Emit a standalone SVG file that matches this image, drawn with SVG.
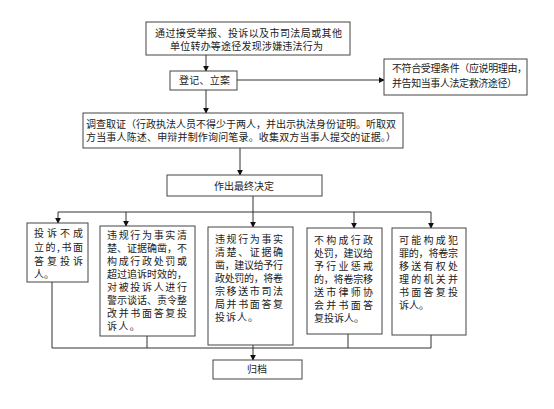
<svg xmlns="http://www.w3.org/2000/svg" width="554" height="409" viewBox="0 0 554 409">
<defs>
<style>
.box{fill:#fff;stroke:#444;stroke-width:1}
.ln{fill:none;stroke:#333;stroke-width:1}
text{font-family:"Noto Sans CJK SC","Noto Sans",sans-serif;font-size:10px;fill:#222}
</style>
<marker id="ah" viewBox="0 0 8 8" refX="7" refY="4" markerWidth="6" markerHeight="6" orient="auto" markerUnits="userSpaceOnUse">
<path d="M0,0 L8,4 L0,8 z" fill="#111"/>
</marker>
</defs>
<rect width="554" height="409" fill="#fff"/>
<g id="connectors">
<path class="ln" d="M206,55 V71" marker-end="url(#ah)"/>
<path class="ln" d="M237,80 H384" marker-end="url(#ah)"/>
<path class="ln" d="M206,90 V113" marker-end="url(#ah)"/>
<path class="ln" d="M240,148 V175" marker-end="url(#ah)"/>
<path class="ln" d="M253,196 V212 M58,212 H431"/>
<path class="ln" d="M58,212 V223" marker-end="url(#ah)"/>
<path class="ln" d="M126,212 V226" marker-end="url(#ah)"/>
<path class="ln" d="M253,212 V227" marker-end="url(#ah)"/>
<path class="ln" d="M354,212 V228" marker-end="url(#ah)"/>
<path class="ln" d="M431,212 V228" marker-end="url(#ah)"/>
<path class="ln" d="M52,282 V348 H431 M147,336 V348 M348,334 V348 M431,335 V348"/>
<path class="ln" d="M253,345 V360" marker-end="url(#ah)"/>
</g>
<g id="n-source">
<rect class="box" x="146" y="22" width="204" height="33"/>
<text x="155" y="37" textLength="187" lengthAdjust="spacing">通过接受举报、投诉以及市司法局或其他</text>
<text x="170" y="50" textLength="153" lengthAdjust="spacing">单位转办等途径发现涉嫌违法行为</text>
</g>
<g id="n-register">
<rect class="box" x="170" y="71" width="67" height="19"/>
<text x="179" y="84" textLength="51" lengthAdjust="spacing">登记、立案</text>
</g>
<g id="n-reject">
<rect class="box" x="384" y="59" width="143" height="36"/>
<text x="392" y="72" textLength="135" lengthAdjust="spacing">不符合受理条件（应说明理由，</text>
<text x="392" y="87" textLength="125" lengthAdjust="spacing">并告知当事人法定救济途径）</text>
</g>
<g id="n-investigate">
<rect class="box" x="83" y="113" width="320" height="35"/>
<text x="86" y="128" textLength="310" lengthAdjust="spacing">调查取证（行政执法人员不得少于两人，并出示执法身份证明。听取双</text>
<text x="86" y="141" textLength="310" lengthAdjust="spacing">方当事人陈述、申辩并制作询问笔录。收集双方当事人提交的证据。）</text>
</g>
<g id="n-decision">
<rect class="box" x="167" y="175" width="155" height="21"/>
<text x="244" y="190" text-anchor="middle">作出最终决定</text>
</g>
<g id="n-b1">
<rect class="box" x="27" y="223" width="61" height="59"/>
<text x="34" y="237" textLength="49" lengthAdjust="spacing">投诉不成</text>
<text x="34" y="251" textLength="49" lengthAdjust="spacing">立的,书面</text>
<text x="34" y="265" textLength="49" lengthAdjust="spacing">答复投诉</text>
<text x="34" y="278">人。</text>
</g>
<g id="n-b2">
<rect class="box" x="100" y="226" width="95" height="110"/>
<text x="107" y="239" textLength="80" lengthAdjust="spacing">违规行为事实清</text>
<text x="107" y="252" textLength="80" lengthAdjust="spacing">楚、证据确凿，不</text>
<text x="107" y="265" textLength="80" lengthAdjust="spacing">构成行政处罚或</text>
<text x="107" y="278" textLength="80" lengthAdjust="spacing">超过追诉时效的，</text>
<text x="107" y="291" textLength="80" lengthAdjust="spacing">对被投诉人进行</text>
<text x="107" y="304" textLength="80" lengthAdjust="spacing">警示谈话、责令整</text>
<text x="107" y="317" textLength="80" lengthAdjust="spacing">改并书面答复投</text>
<text x="107" y="330" letter-spacing="1.4">诉人。</text>
</g>
<g id="n-b3">
<rect class="box" x="208" y="227" width="85" height="118"/>
<text x="215" y="243" textLength="68" lengthAdjust="spacing">违规行为事实</text>
<text x="215" y="256" textLength="68" lengthAdjust="spacing">清楚、证据确</text>
<text x="215" y="269" textLength="68" lengthAdjust="spacing">凿，建议给予行</text>
<text x="215" y="282" textLength="68" lengthAdjust="spacing">政处罚的，将卷</text>
<text x="215" y="295" textLength="68" lengthAdjust="spacing">宗移送市司法</text>
<text x="215" y="308" textLength="68" lengthAdjust="spacing">局并书面答复</text>
<text x="215" y="321" letter-spacing="1">投诉人。</text>
</g>
<g id="n-b4">
<rect class="box" x="307" y="228" width="75" height="106"/>
<text x="314" y="244" textLength="59" lengthAdjust="spacing">不构成行政</text>
<text x="314" y="257" textLength="59" lengthAdjust="spacing">处罚，建议给</text>
<text x="314" y="270" textLength="59" lengthAdjust="spacing">予行业惩戒</text>
<text x="314" y="283" textLength="59" lengthAdjust="spacing">的，将卷宗移</text>
<text x="314" y="296" textLength="59" lengthAdjust="spacing">送市律师协</text>
<text x="314" y="309" textLength="59" lengthAdjust="spacing">会并书面答</text>
<text x="314" y="322">复投诉人。</text>
</g>
<g id="n-b5">
<rect class="box" x="392" y="228" width="74" height="107"/>
<text x="399" y="244" textLength="59" lengthAdjust="spacing">可能构成犯</text>
<text x="399" y="257" textLength="59" lengthAdjust="spacing">罪的，将卷宗</text>
<text x="399" y="270" textLength="59" lengthAdjust="spacing">移送有权处</text>
<text x="399" y="283" textLength="59" lengthAdjust="spacing">理的机关并</text>
<text x="399" y="296" textLength="59" lengthAdjust="spacing">书面答复投</text>
<text x="399" y="309">诉人。</text>
</g>
<g id="n-archive">
<rect class="box" x="213" y="360" width="89" height="19"/>
<text x="257" y="373" text-anchor="middle">归档</text>
</g>
</svg>
